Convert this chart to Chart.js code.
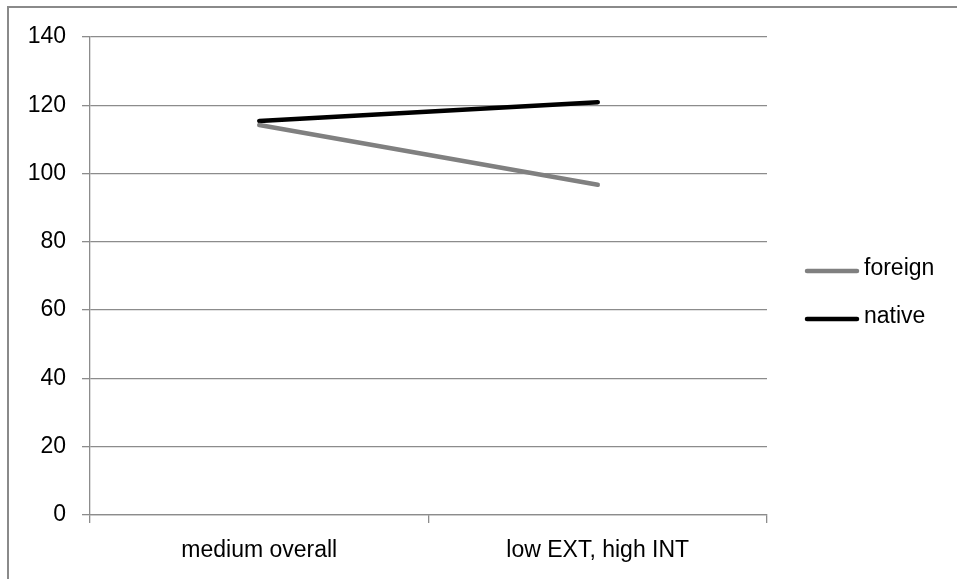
<!DOCTYPE html>
<html><head><meta charset="utf-8">
<script src="https://cdn.jsdelivr.net/npm/chart.js@4"></script>
<style>
html,body{margin:0;padding:0;background:#fff;}
#wrap{position:relative;width:957px;height:579px;overflow:hidden;}
#frame{position:absolute;left:7px;top:6px;width:960px;height:600px;border-left:2px solid #8a8a8a;border-top:2px solid #8a8a8a;}
canvas{position:absolute;left:0;top:0;}
</style></head>
<body><div id="wrap"><div id="frame"></div><canvas id="c" width="957" height="579"></canvas></div>
<script>
const categories = ["medium overall", "low EXT, high INT"];
const foreign = [114.2, 96.7];
const native = [115.4, 120.9];
const seriesNames = ["foreign", "native"];
const yTicks = [0, 20, 40, 60, 80, 100, 120, 140];

const FONT = "'Liberation Sans', Arial, sans-serif";
const gridColor = "#8c8c8c";

const legendPlugin = {
  id: "customLegend",
  afterDraw(chart) {
    const ctx = chart.ctx;
    const ys = [271, 319];
    ctx.save();
    chart.data.datasets.forEach((ds, i) => {
      ctx.strokeStyle = ds.borderColor;
      ctx.lineWidth = 4.5;
      ctx.lineCap = "round";
      ctx.beginPath();
      ctx.moveTo(807, ys[i]);
      ctx.lineTo(857, ys[i]);
      ctx.stroke();
      ctx.fillStyle = "#000";
      ctx.font = "23px " + FONT;
      ctx.textBaseline = "middle";
      ctx.textAlign = "left";
      ctx.fillText(ds.label, 864, ys[i] - 2);
    });
    ctx.restore();
  }
};

new Chart(document.getElementById("c"), {
  type: "line",
  data: {
    labels: categories,
    datasets: [
      { label: seriesNames[0], data: foreign, borderColor: "#808080", backgroundColor: "#808080", borderWidth: 4.5, pointRadius: 0, tension: 0, borderCapStyle: "round" },
      { label: seriesNames[1], data: native, borderColor: "#000000", backgroundColor: "#000000", borderWidth: 4.5, pointRadius: 0, tension: 0, borderCapStyle: "round" }
    ]
  },
  options: {
    responsive: false,
    animation: false,
    layout: { padding: { left: 0, top: 37, right: 190, bottom: 0 } },
    plugins: { legend: { display: false }, tooltip: { enabled: false } },
    scales: {
      x: {
        offset: true,
        grid: { offset: true, drawOnChartArea: false, drawTicks: true, tickLength: 8, color: gridColor, lineWidth: 1.3 },
        border: { color: gridColor, width: 1.3 },
        ticks: { color: "#000", font: { family: FONT, size: 23 }, padding: 14, maxRotation: 0 },
        afterFit(s) { s.height = 64; }
      },
      y: {
        min: 0, max: 140,
        afterBuildTicks(s) { s.ticks = yTicks.map(v => ({ value: v })); },
        grid: { color: gridColor, lineWidth: 1.3, drawTicks: true, tickLength: 8 },
        border: { color: gridColor, width: 1.3 },
        ticks: { color: "#000", font: { family: FONT, size: 23 }, padding: 16 },
        afterFit(s) { s.width = 90; }
      }
    }
  },
  plugins: [legendPlugin]
});
</script>
</body></html>
